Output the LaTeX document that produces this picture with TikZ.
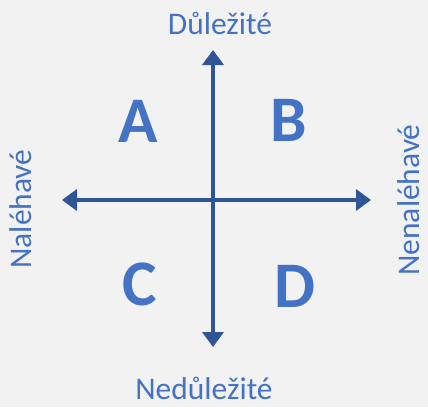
\documentclass[tikz,border=0pt]{standalone}
\usepackage{fontspec}
\setmainfont{Carlito}
\usepackage{xcolor}
\usetikzlibrary{arrows.meta}

\definecolor{axisblue}{HTML}{2F5597}
\definecolor{textblue}{HTML}{4472C4}
\definecolor{bggray}{HTML}{F2F2F2}

\begin{document}
\begin{tikzpicture}[
		x=1pt, y=-1pt,
		axislabel/.style={
			text=textblue,
			inner sep=0pt,
			font=\fontsize{31.5}{36}\selectfont
		},
		quadrant/.style={
			text=textblue,
			inner sep=0pt,
			font=\fontsize{65}{75}\selectfont\bfseries
		},
		axis/.style={
			{Triangle[length=15pt,width=21pt]}-{Triangle[length=15pt,width=21pt]},
			draw=axisblue,
			line width=4.5pt
		}
		]
		
		\fill[bggray] (0,0) rectangle (428,407);
		\useasboundingbox (0,0) rectangle (428,407);
		
		% axis end points
		\coordinate (top) at (213,50);
		\coordinate (bottom) at (213,347);
		\coordinate (left) at (62,200);
		\coordinate (right) at (371,200);
		
		\draw[axis] (bottom) -- (top);
		\draw[axis] (left) -- (right);
		
		% axis labels
		\node[axislabel] (important) at (220,23) {Důležité};
		\node[axislabel] (unimportant) at (204,388) {Nedůležité};
		\node[axislabel, rotate=90] (urgent) at (21,209) {Naléhavé};
		\node[axislabel, rotate=90] (noturgent) at (409,200) {Nenaléhavé};
		
		% quadrants
		\node[quadrant] (qa) at (138,121) {A};
		\node[quadrant] (qb) at (289,120) {B};
		\node[quadrant] (qc) at (140,284) {C};
		\node[quadrant] (qd) at (295,286) {D};
		
	\end{tikzpicture}
\end{document}
